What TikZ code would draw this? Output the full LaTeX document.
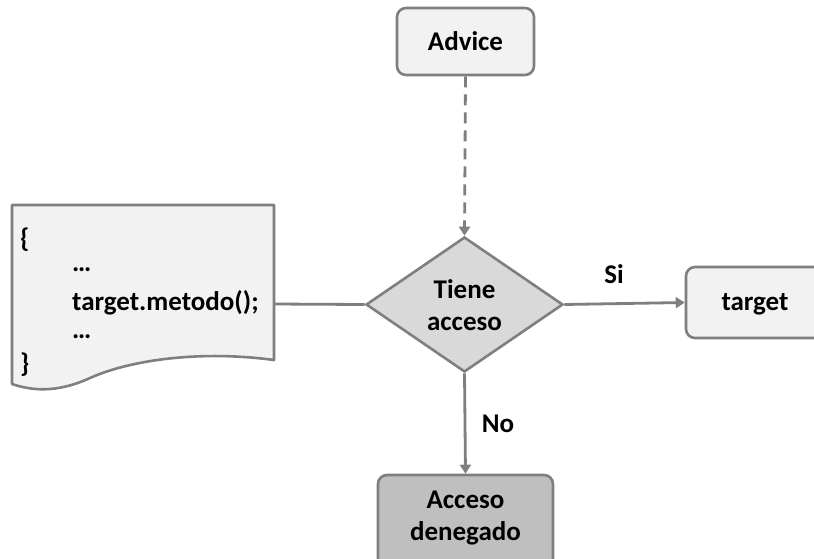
\documentclass[tikz,border=0pt]{standalone}
\usepackage{fontspec}
\setmainfont{Carlito}
\usetikzlibrary{shapes.geometric,arrows.meta}
\definecolor{edge}{HTML}{7F7F7F}
\definecolor{light}{HTML}{F2F2F2}
\definecolor{mid}{HTML}{D9D9D9}
\definecolor{dark}{HTML}{BFBFBF}
\newcommand\bigfont{\bfseries\fontsize{27}{32}\selectfont}
\tikzset{
  box/.style={draw=edge, line width=2.6pt, rounded corners=9pt, font=\bigfont, align=center, inner sep=0pt},
  conn/.style={draw=edge, line width=2.8pt},
  tip/.style={-{Triangle[width=11pt,length=9pt]}},
  lbl/.style={font=\bigfont, inner sep=0pt},
}
\begin{document}
\begin{tikzpicture}[x=1pt,y=-1pt]
\useasboundingbox (0,0) rectangle (814,558);
\clip (0,0) rectangle (814,558);
\fill[white] (0,0) rectangle (814,558);
% document shape
\draw[draw=edge, fill=light, line width=2.6pt, line join=round]
  (12,205) -- (274,205) -- (274,360)
  .. controls (200,350) and (130,360) .. (90,378)
  .. controls (55,394) and (30,390) .. (12,384) -- cycle;
\node[lbl, anchor=west] (ob) at (20,240) {\{};
\node[lbl, anchor=west] (d1) at (72,270) {…};
\node[lbl, anchor=west] (call) at (72,303) {target.metodo();};
\node[lbl, anchor=west] (d2) at (72,337) {…};
\node[lbl, anchor=west] (cb) at (20,365) {\}};
\coordinate (docR) at (274,304);
% nodes
\node[box, fill=light, minimum width=137pt, minimum height=67pt] (advice) at (465.5,41.5) {Advice};
\node[draw=edge, fill=mid, line width=2.6pt, diamond, aspect=1.46, minimum width=197pt, minimum height=135pt, inner sep=0pt] (dec) at (464.5,304.5) {};
\node[font=\bigfont, align=center] (dect) at (464.5,305) {Tiene\\acceso};
\node[box, fill=light, minimum width=160pt, minimum height=71pt] (target) at (766,302.5) {};
\node[font=\bigfont] (targett) at (755,304) {target};
\node[box, fill=dark, minimum width=175pt, minimum height=100pt] (deny) at (465.5,525) {};
\node[font=\bigfont, align=center] (denyt) at (465.5,518) {Acceso\\denegado};
% connectors
\draw[conn, tip, dashed, dash pattern=on 11pt off 7pt] (advice.south) -- (dec.north);
\draw[conn] (docR) -- (dec.west);
\draw[conn, tip] (dec.east) -- (target.west);
\draw[conn, tip] (dec.south) -- (deny.north);
\node[lbl] (si) at (614,274) {Si};
\node[lbl] (no) at (498,424) {No};
\end{tikzpicture}
\end{document}
